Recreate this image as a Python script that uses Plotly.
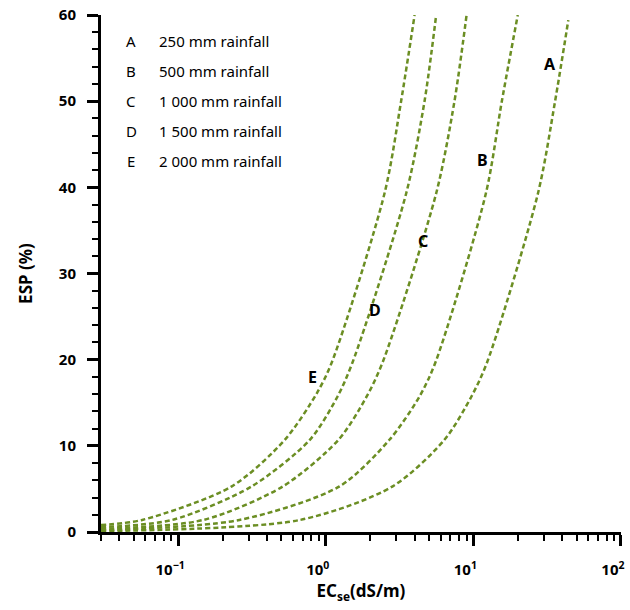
import math
import plotly.graph_objects as go

# EC_se (dS/m) and ESP (%) readings for each rainfall regime
ec_a = [0.03, 0.67, 2.84, 6.37, 9.69, 12.4, 27.5, 35.8, 44.0]
esp_a = [0.1, 1.4, 5.3, 10.7, 15.7, 19.7, 39.4, 50.0, 59.4]

ec_b = [0.03, 0.26, 1.24, 2.70, 4.31, 5.54, 12.2, 15.6, 20.0]
esp_b = [0.2, 1.4, 5.3, 10.7, 15.7, 19.7, 39.4, 50.0, 60.0]

ec_c = [0.03, 0.148, 0.513, 1.22, 1.89, 2.43, 5.62, 7.45, 9.0]
esp_c = [0.35, 1.4, 5.3, 10.7, 15.7, 19.7, 39.4, 50.0, 60.0]

ec_d = [0.03, 0.091, 0.315, 0.78, 1.20, 1.52, 3.52, 4.67, 5.6]
esp_d = [0.55, 1.4, 5.3, 10.7, 15.7, 19.7, 39.4, 50.0, 60.0]

ec_e = [0.03, 0.057, 0.231, 0.528, 0.87, 1.10, 2.51, 3.24, 4.0]
esp_e = [0.8, 1.4, 5.3, 10.7, 16.1, 19.7, 39.4, 50.0, 60.0]

curve_letters = ["A", "B", "C", "D", "E"]
rainfall_labels = ["250 mm rainfall", "500 mm rainfall", "1 000 mm rainfall",
                   "1 500 mm rainfall", "2 000 mm rainfall"]
# where each curve letter sits on the chart
letter_x = [33.1, 11.5, 4.59, 2.14, 0.817]
letter_y = [54.3, 43.2, 33.8, 25.75, 18.0]

x_tickvals = [0.1, 1, 10, 100]
x_ticktext = ["10<sup>−1</sup>", "10<sup>0</sup>", "10<sup>1</sup>", "10<sup>2</sup>"]

LINE = "#6b8e23"
FONT = "Noto Sans"

fig = go.Figure()
for xs, ys in [(ec_a, esp_a), (ec_b, esp_b), (ec_c, esp_c), (ec_d, esp_d), (ec_e, esp_e)]:
    fig.add_trace(go.Scatter(
        x=xs, y=ys, mode="lines",
        line=dict(color=LINE, width=2.5, dash="5px,3px", shape="spline", smoothing=0.8),
        showlegend=False, hoverinfo="skip",
    ))

# letters beside the curves
for t, x, y in zip(curve_letters, letter_x, letter_y):
    fig.add_annotation(x=math.log10(x), y=y, text=t, showarrow=False,
                       xanchor="center", yanchor="middle",
                       font=dict(family=FONT, size=16, color="black", weight="bold"))

# key in the upper-left corner
row_y = [0.950, 0.892, 0.834, 0.776, 0.718]
for t, lab, y in zip(curve_letters, rainfall_labels, row_y):
    fig.add_annotation(xref="paper", yref="paper", x=0.058, y=y, text=t,
                       showarrow=False, xanchor="center", yanchor="middle",
                       font=dict(family=FONT, size=15, color="black"))
    fig.add_annotation(xref="paper", yref="paper", x=0.107, y=y, text=lab,
                       showarrow=False, xanchor="left", yanchor="middle",
                       font=dict(family=FONT, size=15, color="black"))

minor_x = [m * 10 ** k for k in range(-2, 2) for m in range(2, 10)
           if 0.03 <= m * 10 ** k <= 100]

fig.update_xaxes(
    type="log", range=[math.log10(0.03), 2.0005],
    tickmode="array", tickvals=x_tickvals, ticktext=x_ticktext,
    ticks="outside", ticklen=11, tickwidth=3, tickcolor="black",
    ticklabelstandoff=11, ticklabelshift=-8, automargin=False,
    ticklabeloverflow="allow",
    minor=dict(tickvals=minor_x, ticks="outside", ticklen=6, tickwidth=2, tickcolor="black"),
    showline=True, linewidth=3, linecolor="black", showgrid=False, zeroline=False,
    tickfont=dict(family=FONT, size=15, color="black", weight="bold"),
    title=dict(text="EC<sub>se</sub>(dS/m)", standoff=8,
               font=dict(family=FONT, size=17, color="black", weight="bold")),
)
fig.update_yaxes(
    range=[0, 60], tickmode="linear", tick0=0, dtick=10,
    ticks="outside", ticklen=11, tickwidth=3, tickcolor="black",
    ticklabelstandoff=8, automargin=False,
    minor=dict(dtick=2, ticks="outside", ticklen=6, tickwidth=2, tickcolor="black"),
    showline=True, linewidth=3, linecolor="black", showgrid=False, zeroline=False,
    tickfont=dict(family=FONT, size=15, color="black", weight="bold"),
    title=dict(text="ESP (%)", standoff=22,
               font=dict(family=FONT, size=17, color="black", weight="bold")),
)

fig.update_layout(
    width=630, height=610,
    margin=dict(l=101, r=9, t=15, b=78),
    plot_bgcolor="white", paper_bgcolor="white",
)

fig.write_html("out.html")
